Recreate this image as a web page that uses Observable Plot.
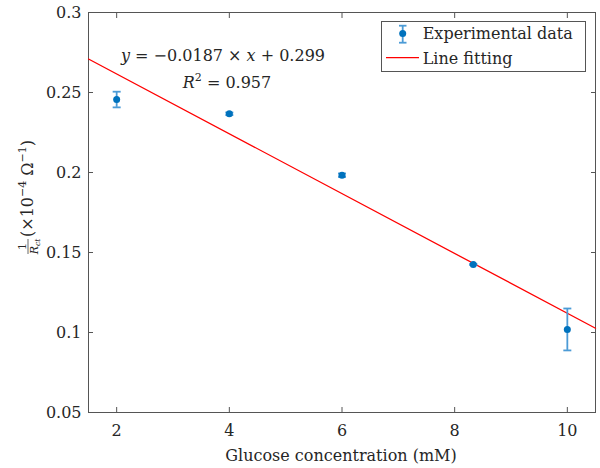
<!DOCTYPE html>
<html>
<head>
<meta charset="utf-8">
<script src="https://cdn.jsdelivr.net/npm/d3@7"></script>
<script src="https://cdn.jsdelivr.net/npm/@observablehq/plot@0.6"></script>
<style>
  body { margin: 0; background: #fff; }
  #chart { position: relative; width: 600px; height: 468px; }
  svg { font-family: "DejaVu Serif", serif; }
</style>
</head>
<body>
<div id="chart"></div>
<script>
// ---- data ----
const concentration = [2, 4, 6, 8.33, 10];            // mM
const invRct = [0.2456, 0.2367, 0.1983, 0.1425, 0.1019]; // 1/Rct (x10^-4 Ω^-1)
const errorBar = [0.0049, 0.0008, 0.0011, 0.0004, 0.0131];
const fitSlope = -0.0187;
const fitIntercept = 0.299;
const fitRange = [1.5, 10.5];
const xTicks = [2, 4, 6, 8, 10];
const yTicks = [0.05, 0.1, 0.15, 0.2, 0.25, 0.3];
const yTickLabels = ["0.05", "0.1", "0.15", "0.2", "0.25", "0.3"];

const points = concentration.map((x, i) => ({x, y: invRct[i], lo: invRct[i] - errorBar[i], hi: invRct[i] + errorBar[i]}));
const fitLine = fitRange.map(x => ({x, y: fitSlope * x + fitIntercept}));

const capSymbol = { draw(ctx) { ctx.moveTo(-4, 0); ctx.lineTo(4, 0); } };

const blue = "#0072BD";
const errBlue = "#4C9BD6";
const axisColor = "#555";
const textColor = "#262626";

const plot = Plot.plot({
  width: 600,
  height: 468,
  marginLeft: 88,
  marginRight: 5,
  marginTop: 12,
  marginBottom: 56,
  style: {fontFamily: "DejaVu Serif", fontSize: "16px", color: textColor, background: "#fff"},
  x: {domain: [1.5, 10.5]},
  y: {domain: [0.05, 0.3]},
  marks: [
    Plot.frame({stroke: axisColor}),
    Plot.axisX({ticks: xTicks, tickSize: 0, tickPadding: 12, fontSize: 16, label: null, tickFormat: d => String(d)}),
    Plot.axisX({ticks: xTicks, tickSize: -5, tickFormat: () => "", label: null, stroke: axisColor}),
    Plot.axisX({ticks: xTicks, anchor: "top", tickSize: -5, tickFormat: () => "", label: null, stroke: axisColor}),
    Plot.axisY({ticks: yTicks, tickSize: 0, tickPadding: 7, fontSize: 16, label: null, tickFormat: (d, i) => yTickLabels[i]}),
    Plot.axisY({ticks: yTicks, tickSize: -5, tickFormat: () => "", label: null, stroke: axisColor}),
    Plot.axisY({ticks: yTicks, anchor: "right", tickSize: -5, tickFormat: () => "", label: null, stroke: axisColor}),
    Plot.line(fitLine, {x: "x", y: "y", stroke: "#FF0000", strokeWidth: 1.3}),
    Plot.ruleX(points, {x: "x", y1: "lo", y2: "hi", stroke: errBlue, strokeWidth: 1.8}),
    Plot.dot(points, {x: "x", y: "lo", symbol: capSymbol, stroke: errBlue, strokeWidth: 1.8, r: 3}),
    Plot.dot(points, {x: "x", y: "hi", symbol: capSymbol, stroke: errBlue, strokeWidth: 1.8, r: 3}),
    Plot.dot(points, {x: "x", y: "y", r: 3.5, fill: blue, stroke: "none"})
  ]
});
document.getElementById("chart").appendChild(plot);

const svg = d3.select(plot);

// x axis label
svg.append("text").attr("x", 341).attr("y", 461).attr("text-anchor", "middle")
  .attr("font-size", 16).attr("fill", textColor).text("Glucose concentration (mM)");

// y axis label (rotated)
const yl = svg.append("g").attr("transform", "translate(28,254) rotate(-90)").attr("fill", textColor);
yl.append("text").attr("x", 7.5).attr("y", -2.5).attr("text-anchor", "middle").attr("font-size", 11).text("1");
yl.append("line").attr("x1", 0).attr("x2", 15).attr("y1", 0).attr("y2", 0).attr("stroke", textColor).attr("stroke-width", 0.7);
const rl = yl.append("text").attr("x", 7.5).attr("y", 9.5).attr("text-anchor", "middle").attr("font-size", 11);
rl.append("tspan").attr("font-style", "italic").text("R");
rl.append("tspan").attr("font-style", "italic").attr("font-size", 7.5).attr("dy", 2).text("ct");
const pl = yl.append("text").attr("x", 17).attr("y", 5).attr("text-anchor", "start").attr("font-size", 16);
pl.append("tspan").text("(×10");
pl.append("tspan").attr("font-size", 11).attr("dy", -7).text("−4");
pl.append("tspan").attr("dy", 7).text(" Ω");
pl.append("tspan").attr("font-size", 11).attr("dy", -7).text("−1");
pl.append("tspan").attr("dy", 7).text(")");

// fit equation annotation
const eq = svg.append("text").attr("x", 223).attr("y", 61).attr("text-anchor", "middle").attr("font-size", 16).attr("fill", textColor);
eq.append("tspan").attr("font-style", "italic").text("y");
eq.append("tspan").text(` = −${Math.abs(fitSlope)} × `);
eq.append("tspan").attr("font-style", "italic").text("x");
eq.append("tspan").text(` + ${fitIntercept}`);
const r2 = svg.append("text").attr("x", 227).attr("y", 88).attr("text-anchor", "middle").attr("font-size", 16).attr("fill", textColor);
r2.append("tspan").attr("font-style", "italic").text("R");
r2.append("tspan").attr("font-size", 11).attr("dy", -7).text("2");
r2.append("tspan").attr("dy", 7).text(" = 0.957");

// legend
const lg = svg.append("g");
lg.append("rect").attr("x", 381.5).attr("y", 21.5).attr("width", 204).attr("height", 50)
  .attr("fill", "#fff").attr("stroke", axisColor);
lg.append("line").attr("x1", 402.7).attr("x2", 402.7).attr("y1", 25.7).attr("y2", 42.7).attr("stroke", errBlue).attr("stroke-width", 1.8);
lg.append("line").attr("x1", 399).attr("x2", 406.5).attr("y1", 25.7).attr("y2", 25.7).attr("stroke", errBlue).attr("stroke-width", 1.8);
lg.append("line").attr("x1", 399).attr("x2", 406.5).attr("y1", 42.7).attr("y2", 42.7).attr("stroke", errBlue).attr("stroke-width", 1.8);
lg.append("circle").attr("cx", 402.7).attr("cy", 33.5).attr("r", 3.5).attr("fill", blue);
lg.append("text").attr("x", 422.7).attr("y", 39).attr("text-anchor", "start").attr("font-size", 16).attr("fill", textColor).text("Experimental data");
lg.append("line").attr("x1", 386).attr("x2", 419).attr("y1", 57.7).attr("y2", 57.7).attr("stroke", "#FF0000").attr("stroke-width", 1.3);
lg.append("text").attr("x", 422.7).attr("y", 63.5).attr("text-anchor", "start").attr("font-size", 16).attr("fill", textColor).text("Line fitting");
</script>
</body>
</html>
